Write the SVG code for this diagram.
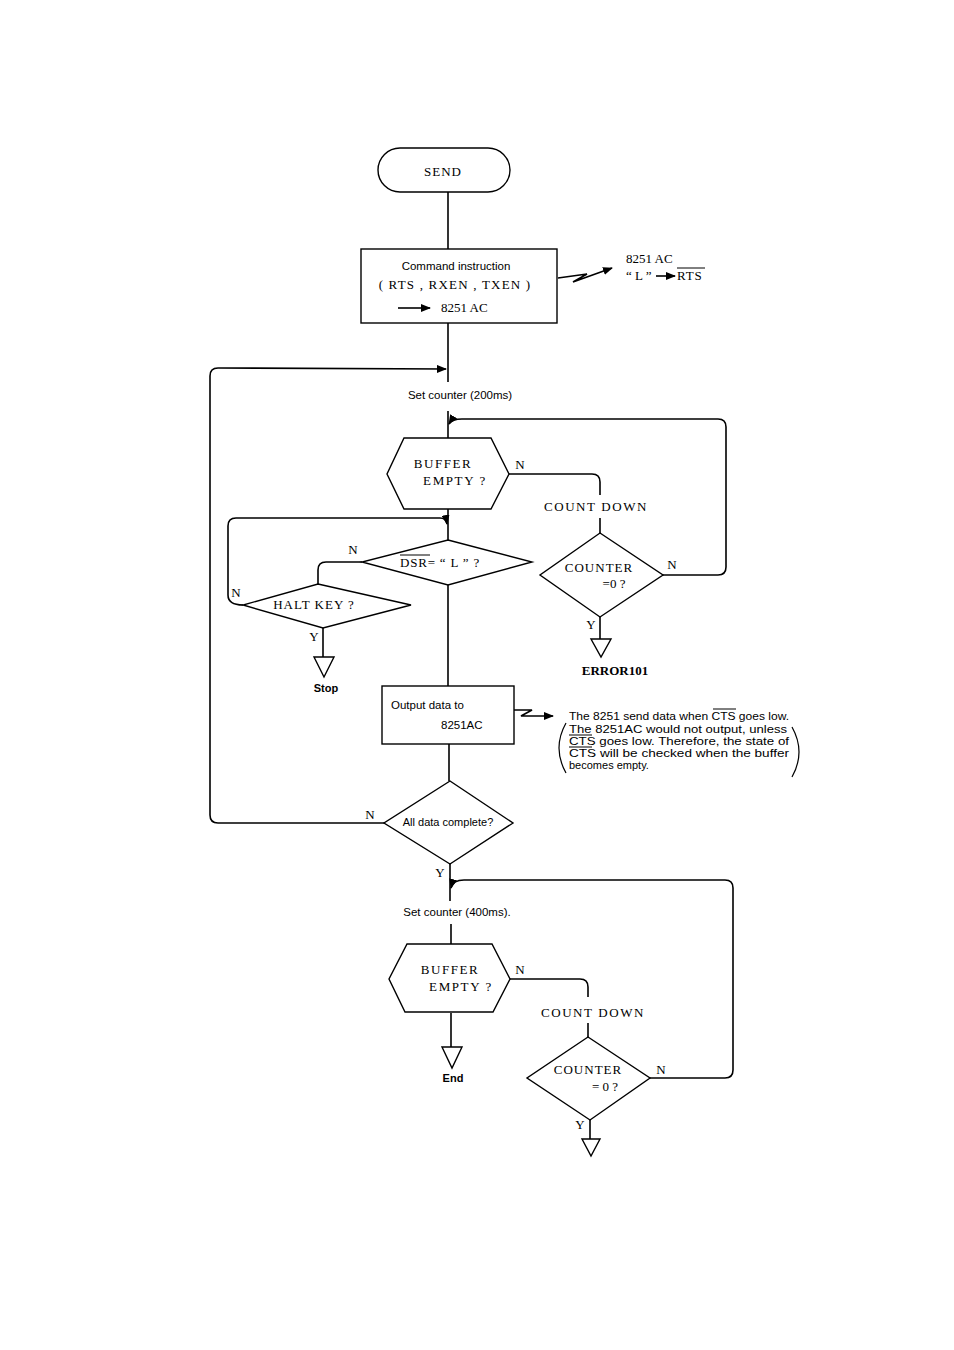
<svg xmlns="http://www.w3.org/2000/svg" width="954" height="1350" viewBox="0 0 954 1350">
<style>
.s{fill:none;stroke:#000;stroke-width:1.6}
.c{fill:none;stroke:#000;stroke-width:1.6;stroke-linejoin:round}
.n{fill:#fff;stroke:#000;stroke-width:1.4}
.t{fill:#fff;stroke:#000;stroke-width:1.4}
.sf{font-family:"Liberation Serif",serif;font-size:13px;fill:#000}
.sw{font-family:"Liberation Serif",serif;font-size:13px;fill:#000;letter-spacing:1.6px}
.ss{font-family:"Liberation Sans",Arial,sans-serif;font-size:11.5px;fill:#000}
.sn{font-family:"Liberation Sans",Arial,sans-serif;font-size:11px;fill:#000}
.sb{font-family:"Liberation Sans",Arial,sans-serif;font-size:11px;font-weight:bold;fill:#000}
.ol{stroke:#000;stroke-width:1}
</style>
<defs>
<marker id="a" markerWidth="10" markerHeight="8" refX="9" refY="4" orient="auto" markerUnits="userSpaceOnUse">
<path d="M0,0 L10,4 L0,8 z" fill="#000"/>
</marker>
</defs>
<rect width="954" height="1350" fill="#fff"/>

<g id="connectors">
<line class="s" x1="448" y1="192" x2="448" y2="249"/>
<line class="s" x1="448" y1="323" x2="448" y2="382"/>
<path class="c" d="M384,823 L218,823 Q210,823 210,815 L210,376 Q210,368 218,368 L446,369" marker-end="url(#a)"/>
<line class="s" x1="448" y1="411" x2="448" y2="438"/>
<path class="c" d="M509,474 L592,474 Q600,474 600,482 L600,495"/>
<line class="s" x1="600" y1="518" x2="600" y2="533"/>
<path class="c" d="M663,575 L718,575 Q726,575 726,567 L726,427 Q726,419 718,419 L462,419 Q452,419 449,424" marker-end="url(#a)"/>
<path class="s" d="M600,617 L600,640"/>
<line class="s" x1="448" y1="509" x2="448" y2="540"/>
<path class="c" d="M243,605 Q228,605 228,595 L228,526 Q228,518 236,518 L440,518 Q446,518 447,524" marker-end="url(#a)"/>
<path class="c" d="M362,562 L326,562 Q318,562 318,570 L318,584"/>
<line class="s" x1="323" y1="628" x2="323" y2="657"/>
<line class="s" x1="448" y1="585" x2="448" y2="686"/>
<line class="s" x1="449" y1="744" x2="449" y2="781"/>
<line class="s" x1="450" y1="864" x2="450" y2="901"/>
<path class="c" d="M650,1078 L725,1078 Q733,1078 733,1070 L733,888 Q733,880 725,880 L464,880 Q453,880 451,888" marker-end="url(#a)"/>
<line class="s" x1="451" y1="924" x2="451" y2="944"/>
<path class="c" d="M510,979 L580,979 Q588,979 588,987 L588,997"/>
<line class="s" x1="588" y1="1023" x2="588" y2="1037"/>
<line class="s" x1="590" y1="1120" x2="590" y2="1140"/>
<line class="s" x1="451" y1="1013" x2="451" y2="1047"/>
<path class="s" d="M558,278 L587,274 L573,282 L612,268" marker-end="url(#a)" stroke-width="1.3"/>
<path class="s" d="M514,710 L532,710 L521,716 L553,716" marker-end="url(#a)" stroke-width="1.3"/>
</g>

<g id="send">
<rect class="n" x="378" y="148" width="132" height="44" rx="22"/>
<text class="sf" x="443" y="176" text-anchor="middle" font-size="12" letter-spacing="1">SEND</text>
</g>

<g id="command">
<rect class="n" x="361" y="249" width="196" height="74"/>
<text class="ss" x="456" y="270" text-anchor="middle">Command instruction</text>
<text class="sf" x="455" y="289" text-anchor="middle" letter-spacing="1.2">( RTS , RXEN , TXEN )</text>
<line class="s" x1="398" y1="308" x2="430" y2="308" marker-end="url(#a)" stroke-width="1.2"/>
<text class="sf" x="441" y="312">8251 AC</text>
</g>

<g id="rts-note">
<text class="sf" x="626" y="263">8251 AC</text>
<text class="sf" x="626" y="280">“ L ”</text>
<line class="s" x1="656" y1="276" x2="675" y2="276" marker-end="url(#a)" stroke-width="1.1"/>
<text class="sf" x="677" y="280" letter-spacing="0.8">RTS</text>
<line class="ol" x1="677" y1="268" x2="705" y2="268"/>
</g>

<g id="set200">
<text class="ss" x="460" y="399" text-anchor="middle">Set counter (200ms)</text>
</g>

<g id="buffer1">
<polygon class="n" points="404,438 491,438 509,474 491,509 404,509 387,474"/>
<text class="sw" x="443" y="468" text-anchor="middle">BUFFER</text>
<text class="sw" x="455" y="485" text-anchor="middle">EMPTY ?</text>
<text class="sf" x="520" y="469" text-anchor="middle">N</text>
</g>

<g id="countdown1">
<text class="sw" x="596" y="511" text-anchor="middle">COUNT  DOWN</text>
</g>

<g id="counter1">
<polygon class="n" points="600,533 663,575 600,617 540,575"/>
<text class="sf" x="599" y="572" text-anchor="middle" letter-spacing="1">COUNTER</text>
<text class="sf" x="614" y="588" text-anchor="middle">=0 ?</text>
<text class="sf" x="672" y="569" text-anchor="middle">N</text>
<text class="sf" x="591" y="629" text-anchor="middle">Y</text>
</g>

<g id="error101">
<polygon class="t" points="591,639 611,639 601,657"/>
<text class="sf" x="615" y="675" text-anchor="middle" font-weight="bold" font-size="12.5">ERROR101</text>
</g>

<g id="dsr">
<polygon class="n" points="448,540 532,562 448,585 362,562"/>
<text class="sf" x="400" y="567" letter-spacing="0.8">DSR= “ L ” ?</text>
<line class="ol" x1="400" y1="555" x2="430" y2="555"/>
<text class="sf" x="353" y="554" text-anchor="middle">N</text>
</g>

<g id="haltkey">
<polygon class="n" points="318,584 411,605 323,628 243,605"/>
<text class="sf" x="314" y="609" text-anchor="middle" letter-spacing="1">HALT KEY ?</text>
<text class="sf" x="236" y="597" text-anchor="middle">N</text>
<text class="sf" x="314" y="641" text-anchor="middle">Y</text>
</g>

<g id="stop">
<polygon class="t" points="314,657 334,657 324,677"/>
<text class="sb" x="326" y="692" text-anchor="middle">Stop</text>
</g>

<g id="output">
<rect class="n" x="382" y="686" width="132" height="58"/>
<text class="ss" x="391" y="709">Output data to</text>
<text class="ss" x="441" y="729">8251AC</text>
</g>

<g id="cts-note">
<text class="sn" x="569" y="720" textLength="220" lengthAdjust="spacingAndGlyphs">The 8251 send data when CTS goes low.</text>
<line class="ol" x1="713" y1="709" x2="736" y2="709"/>
<text class="sn" x="569" y="733" textLength="218" lengthAdjust="spacingAndGlyphs">The 8251AC would not output, unless</text>
<text class="sn" x="569" y="745" textLength="220" lengthAdjust="spacingAndGlyphs">CTS goes low. Therefore, the state of</text>
<line class="ol" x1="569" y1="735" x2="592" y2="735"/>
<text class="sn" x="569" y="757" textLength="220" lengthAdjust="spacingAndGlyphs">CTS will be checked when the buffer</text>
<line class="ol" x1="569" y1="747" x2="592" y2="747"/>
<text class="sn" x="569" y="769">becomes empty.</text>
<path d="M566,723 Q552,748 566,773" fill="none" stroke="#000" stroke-width="1.2"/>
<path d="M792,727 Q806,752 792,777" fill="none" stroke="#000" stroke-width="1.2"/>
</g>

<g id="alldata">
<polygon class="n" points="450,781 513,823 450,864 384,823"/>
<text class="sn" x="448" y="826" text-anchor="middle">All data complete?</text>
<text class="sf" x="370" y="819" text-anchor="middle">N</text>
<text class="sf" x="440" y="877" text-anchor="middle">Y</text>
</g>

<g id="set400">
<text class="ss" x="457" y="916" text-anchor="middle">Set counter (400ms).</text>
</g>

<g id="buffer2">
<polygon class="n" points="407,944 492,944 510,979 493,1012 405,1012 389,979"/>
<text class="sw" x="450" y="974" text-anchor="middle">BUFFER</text>
<text class="sw" x="461" y="991" text-anchor="middle">EMPTY ?</text>
<text class="sf" x="520" y="974" text-anchor="middle">N</text>
</g>

<g id="countdown2">
<text class="sw" x="593" y="1017" text-anchor="middle">COUNT  DOWN</text>
</g>

<g id="counter2">
<polygon class="n" points="588,1037 650,1078 590,1120 527,1078"/>
<text class="sf" x="588" y="1074" text-anchor="middle" letter-spacing="1">COUNTER</text>
<text class="sf" x="605" y="1091" text-anchor="middle">= 0 ?</text>
<text class="sf" x="661" y="1074" text-anchor="middle">N</text>
<text class="sf" x="580" y="1129" text-anchor="middle">Y</text>
<polygon class="t" points="582,1139 600,1139 591,1156"/>
</g>

<g id="end">
<polygon class="t" points="442,1047 462,1047 452,1068"/>
<text class="sb" x="453" y="1082" text-anchor="middle">End</text>
</g>
</svg>
